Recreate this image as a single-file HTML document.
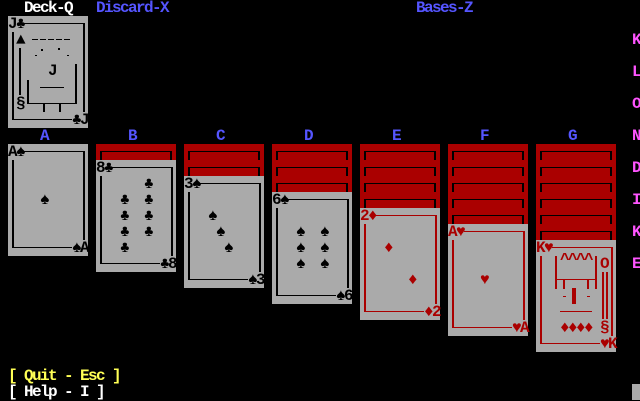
<!DOCTYPE html>
<html><head><style>
*{margin:0;padding:0;box-sizing:border-box}
body{width:640px;height:400px;background:#000;position:relative;overflow:hidden;font-family:"Liberation Mono","DejaVu Sans Mono",monospace;font-size:16px;letter-spacing:-1.6px;line-height:16px;font-weight:bold}
.t{position:absolute;white-space:pre;height:16px}
.card{position:absolute;width:80px;height:112px;background:#aaa;color:#000}
.card.r{color:#aa0000}
.card b{position:absolute;background:currentColor;display:block}
.card i{position:absolute;font-style:normal;white-space:pre;height:16px;line-height:16px}
.back{position:absolute;width:80px;height:16px;background:#aa0000}
.back b{position:absolute;background:#000}
.w{color:#fff}.bl{color:#5555ff}.m{color:#ff55ff}.y{color:#ffff55}
</style></head><body>
<div class="t w" style="left:24px;top:0">Deck-Q</div>
<div class="t bl" style="left:96px;top:0">Discard-X</div>
<div class="t bl" style="left:416px;top:0">Bases-Z</div>

<div class="t bl" style="left:40px;top:128px">A</div>
<div class="t bl" style="left:128px;top:128px">B</div>
<div class="t bl" style="left:216px;top:128px">C</div>
<div class="t bl" style="left:304px;top:128px">D</div>
<div class="t bl" style="left:392px;top:128px">E</div>
<div class="t bl" style="left:480px;top:128px">F</div>
<div class="t bl" style="left:568px;top:128px">G</div>

<div class="t m" style="left:632px;top:32px">K</div>
<div class="t m" style="left:632px;top:64px">L</div>
<div class="t m" style="left:632px;top:96px">O</div>
<div class="t m" style="left:632px;top:128px">N</div>
<div class="t m" style="left:632px;top:160px">D</div>
<div class="t m" style="left:632px;top:192px">I</div>
<div class="t m" style="left:632px;top:224px">K</div>
<div class="t m" style="left:632px;top:256px">E</div>

<div class="t y" style="left:8px;top:368px">[ Quit - Esc ]</div>
<div class="t w" style="left:8px;top:384px">[ Help - I ]</div>
<div style="position:absolute;left:632px;top:384px;width:8px;height:16px;background:#aaa"></div>

<div id="backs"></div>

<div class="card" style="left:8px;top:16px">
<b style="left:16px;top:7px;width:60px;height:1px"></b><b style="left:75px;top:7px;width:2px;height:89px"></b>
<b style="left:4px;top:16px;width:2px;height:88px"></b><b style="left:4px;top:103px;width:60px;height:1px"></b>
<i style="left:0;top:0">J♣</i><i style="left:64px;top:96px">♣J</i>
<i style="left:8px;top:16px">▲</i><b style="left:11px;top:32px;width:2px;height:47px"></b><i style="left:8px;top:80px">§</i>
<b style="left:24px;top:23px;width:6px;height:1px"></b><b style="left:32px;top:23px;width:6px;height:1px"></b><b style="left:40px;top:23px;width:6px;height:1px"></b><b style="left:48px;top:23px;width:6px;height:1px"></b><b style="left:56px;top:23px;width:6px;height:1px"></b>
<b style="left:33px;top:33px;width:2px;height:2px"></b><b style="left:50px;top:32px;width:2px;height:2px"></b>
<b style="left:27px;top:39px;width:2px;height:1px"></b><b style="left:59px;top:39px;width:2px;height:1px"></b>
<i style="left:40px;top:47px">J</i>
<b style="left:19px;top:64px;width:2px;height:24px"></b><b style="left:67px;top:48px;width:2px;height:40px"></b>
<b style="left:19px;top:87px;width:50px;height:1px"></b>
<b style="left:35px;top:87px;width:2px;height:9px"></b><b style="left:51px;top:87px;width:2px;height:9px"></b>
<b style="left:32px;top:71px;width:24px;height:1px"></b>
</div>

<div class="card" style="left:8px;top:144px">
<b style="left:16px;top:7px;width:60px;height:1px"></b><b style="left:75px;top:7px;width:2px;height:89px"></b>
<b style="left:4px;top:16px;width:2px;height:88px"></b><b style="left:4px;top:103px;width:60px;height:1px"></b>
<i style="left:0;top:0">A♠</i><i style="left:64px;top:96px">♠A</i>
<i style="left:32px;top:48px">♠</i>
</div>

<div class="card" style="left:96px;top:160px">
<b style="left:16px;top:7px;width:60px;height:1px"></b><b style="left:75px;top:7px;width:2px;height:89px"></b>
<b style="left:4px;top:16px;width:2px;height:88px"></b><b style="left:4px;top:103px;width:60px;height:1px"></b>
<i style="left:0;top:0">8♣</i><i style="left:64px;top:96px">♣8</i>
<i style="left:48px;top:16px">♣</i><i style="left:48px;top:32px">♣</i><i style="left:48px;top:48px">♣</i><i style="left:48px;top:64px">♣</i>
<i style="left:24px;top:32px">♣</i><i style="left:24px;top:48px">♣</i><i style="left:24px;top:64px">♣</i><i style="left:24px;top:80px">♣</i>
</div>

<div class="card" style="left:184px;top:176px">
<b style="left:16px;top:7px;width:60px;height:1px"></b><b style="left:75px;top:7px;width:2px;height:89px"></b>
<b style="left:4px;top:16px;width:2px;height:88px"></b><b style="left:4px;top:103px;width:60px;height:1px"></b>
<i style="left:0;top:0">3♠</i><i style="left:64px;top:96px">♠3</i>
<i style="left:24px;top:32px">♠</i><i style="left:32px;top:48px">♠</i><i style="left:40px;top:64px">♠</i>
</div>

<div class="card" style="left:272px;top:192px">
<b style="left:16px;top:7px;width:60px;height:1px"></b><b style="left:75px;top:7px;width:2px;height:89px"></b>
<b style="left:4px;top:16px;width:2px;height:88px"></b><b style="left:4px;top:103px;width:60px;height:1px"></b>
<i style="left:0;top:0">6♠</i><i style="left:64px;top:96px">♠6</i>
<i style="left:24px;top:32px">♠</i><i style="left:48px;top:32px">♠</i>
<i style="left:24px;top:48px">♠</i><i style="left:48px;top:48px">♠</i>
<i style="left:24px;top:64px">♠</i><i style="left:48px;top:64px">♠</i>
</div>

<div class="card r" style="left:360px;top:208px">
<b style="left:16px;top:7px;width:60px;height:1px"></b><b style="left:75px;top:7px;width:2px;height:89px"></b>
<b style="left:4px;top:16px;width:2px;height:88px"></b><b style="left:4px;top:103px;width:60px;height:1px"></b>
<i style="left:0;top:0">2♦</i><i style="left:64px;top:96px">♦2</i>
<i style="left:24px;top:32px">♦</i><i style="left:48px;top:64px">♦</i>
</div>

<div class="card r" style="left:448px;top:224px">
<b style="left:16px;top:7px;width:60px;height:1px"></b><b style="left:75px;top:7px;width:2px;height:89px"></b>
<b style="left:4px;top:16px;width:2px;height:88px"></b><b style="left:4px;top:103px;width:60px;height:1px"></b>
<i style="left:0;top:0">A♥</i><i style="left:64px;top:96px">♥A</i>
<i style="left:32px;top:48px">♥</i>
</div>

<div class="card r" style="left:536px;top:240px">
<b style="left:16px;top:7px;width:60px;height:1px"></b><b style="left:75px;top:7px;width:2px;height:89px"></b>
<b style="left:4px;top:16px;width:2px;height:88px"></b><b style="left:4px;top:103px;width:60px;height:1px"></b>
<i style="left:0;top:0">K♥</i><i style="left:64px;top:96px">♥K</i>
<b style="left:19px;top:16px;width:2px;height:33px"></b><b style="left:59px;top:16px;width:2px;height:33px"></b>
<b style="left:19px;top:39px;width:42px;height:1px"></b>
<b style="left:27px;top:39px;width:2px;height:10px"></b><b style="left:51px;top:39px;width:2px;height:10px"></b>
<i style="left:24px;top:12px">^^^^</i>
<b style="left:36px;top:48px;width:4px;height:16px"></b>
<b style="left:27px;top:56px;width:3px;height:1px"></b><b style="left:51px;top:56px;width:3px;height:1px"></b>
<b style="left:24px;top:71px;width:32px;height:1px"></b>
<i style="left:24px;top:80px">♦♦♦♦</i>
<i style="left:64px;top:16px">O</i>
<b style="left:66px;top:32px;width:2px;height:47px"></b><b style="left:70px;top:32px;width:2px;height:47px"></b>
<i style="left:64px;top:80px">§</i>
</div>

<script>
var cols=[[96,1],[184,2],[272,3],[360,4],[448,5],[536,6]],h='';
cols.forEach(function(c){for(var k=0;k<c[1];k++){var y=144+16*k;
h+='<div class="back" style="left:'+c[0]+'px;top:'+y+'px"><b style="left:4px;top:7px;width:72px;height:1px"></b><b style="left:4px;top:7px;width:2px;height:9px"></b><b style="left:74px;top:7px;width:2px;height:9px"></b></div>';}});
document.getElementById('backs').innerHTML=h;
</script>
</body></html>
